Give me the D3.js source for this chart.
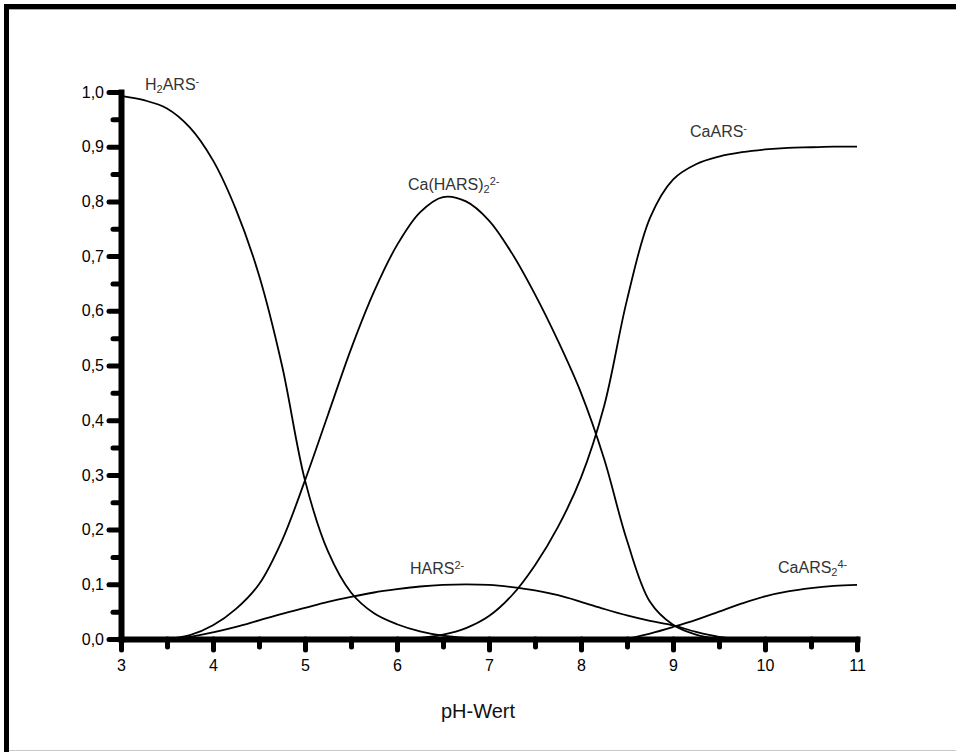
<!DOCTYPE html>
<html>
<head>
<meta charset="utf-8">
<script src="https://cdn.jsdelivr.net/npm/d3@7"></script>
<style>
  body { margin: 0; background: #fff; }
  svg { display: block; }
  text { font-family: "Liberation Sans", Arial, sans-serif; }
</style>
</head>
<body>
<svg id="chart" width="956" height="752"></svg>
<script>
// pH grid shared by every species curve
const pH = [3.00, 3.25, 3.50, 3.75, 4.00, 4.25, 4.50, 4.75, 5.00, 5.25, 5.50, 5.75,
            6.00, 6.25, 6.50, 6.75, 7.00, 7.25, 7.50, 7.75, 8.00, 8.25, 8.50, 8.75,
            9.00, 9.25, 9.50, 9.75, 10.00, 10.25, 10.50, 10.75, 11.00];

// species fractions (null = species not drawn at that pH)
const h2ars = [0.993, 0.985, 0.970, 0.935, 0.875, 0.785, 0.665, 0.500, 0.290, 0.160, 0.085, 0.047,
               0.027, 0.014, 0.006, 0.002, 0.000, null, null, null, null, null, null, null,
               null, null, null, null, null, null, null, null, null];
const caHars2 = [null, null, 0.000, 0.007, 0.025, 0.055, 0.100, 0.180, 0.290, 0.410, 0.530, 0.635,
                 0.720, 0.780, 0.808, 0.800, 0.765, 0.705, 0.630, 0.545, 0.450, 0.330, 0.180, 0.068,
                 0.026, 0.008, 0.000, null, null, null, null, null, null];
const caArs = [null, null, null, null, null, null, null, null, null, null, null, null,
               0.000, 0.002, 0.008, 0.020, 0.042, 0.080, 0.135, 0.205, 0.295, 0.425, 0.620, 0.770,
               0.840, 0.868, 0.882, 0.890, 0.895, 0.898, 0.899, 0.900, 0.900];
const hars = [null, null, 0.000, 0.004, 0.012, 0.022, 0.034, 0.046, 0.057, 0.068, 0.077, 0.085,
              0.091, 0.096, 0.099, 0.100, 0.099, 0.095, 0.089, 0.080, 0.068, 0.055, 0.043, 0.033,
              0.025, 0.013, 0.004, 0.000, null, null, null, null, null];
const caArs2 = [null, null, null, null, null, null, null, null, null, null, null, null,
                null, null, null, null, null, null, null, null, null, null, 0.000, 0.010,
                0.022, 0.035, 0.050, 0.065, 0.078, 0.087, 0.093, 0.097, 0.099];

const xTicks = [3, 4, 5, 6, 7, 8, 9, 10, 11];
const xMinor = [3.5, 4.5, 5.5, 6.5, 7.5, 8.5, 9.5, 10.5];
const yTicks = [0, 0.1, 0.2, 0.3, 0.4, 0.5, 0.6, 0.7, 0.8, 0.9, 1.0];
const yMinor = [0.05, 0.15, 0.25, 0.35, 0.45, 0.55, 0.65, 0.75, 0.85, 0.95];
const xTitle = "pH-Wert";

const svg = d3.select("#chart");

// outer frame: heavy top and left edges, thin grey bottom line
svg.append("rect").attr("x", 4).attr("y", 4).attr("width", 952).attr("height", 5).attr("fill", "#000");
svg.append("line").attr("x1", 9).attr("x2", 956).attr("y1", 9.5).attr("y2", 9.5).attr("stroke", "#aaa").attr("stroke-width", 1);
svg.append("rect").attr("x", 4).attr("y", 4).attr("width", 5).attr("height", 748).attr("fill", "#000");
svg.append("line").attr("x1", 9).attr("x2", 956).attr("y1", 750.5).attr("y2", 750.5).attr("stroke", "#c8c8c8").attr("stroke-width", 1);

const x = d3.scaleLinear().domain([3, 11]).range([121, 857]);
const y = d3.scaleLinear().domain([0, 1]).range([639, 92]);

const fmt = d => d3.format(".1f")(d).replace(".", ",");

// minor ticks (no labels)
const gxm = svg.append("g").attr("transform", `translate(0,${y(0)})`)
  .call(d3.axisBottom(x).tickValues(xMinor).tickSize(8).tickFormat(""));
const gym = svg.append("g").attr("transform", `translate(${x(3)},0)`)
  .call(d3.axisLeft(y).tickValues(yMinor).tickSize(8).tickFormat(""));
[gxm, gym].forEach(g => {
  g.select(".domain").remove();
  g.selectAll(".tick line").attr("stroke", "#000").attr("stroke-width", 5).attr("stroke-linecap", "round");
});

// major axes
const gx = svg.append("g").attr("transform", `translate(0,${y(0)})`)
  .call(d3.axisBottom(x).tickValues(xTicks).tickSize(11).tickSizeOuter(0).tickPadding(10).tickFormat(d3.format("d")));
const gy = svg.append("g").attr("transform", `translate(${x(3)},0)`)
  .call(d3.axisLeft(y).tickValues(yTicks).tickSize(12).tickSizeOuter(0).tickPadding(5).tickFormat(fmt));
[gx, gy].forEach(g => {
  g.select(".domain").attr("stroke", "#000").attr("stroke-width", 6).attr("stroke-linecap", "square");
  g.selectAll(".tick line").attr("stroke", "#000").attr("stroke-width", 5).attr("stroke-linecap", "round");
  g.selectAll(".tick text").attr("fill", "#000").style("font-size", "16px")
    .style("font-family", "'Liberation Sans', Arial, sans-serif");
});

svg.append("text").attr("x", 478).attr("y", 718).attr("text-anchor", "middle")
  .style("font-size", "20px").attr("fill", "#111").text(xTitle);

// species curves
const series = [h2ars, caHars2, caArs, hars, caArs2];
const line = d3.line()
  .defined(d => d[1] !== null)
  .x(d => x(d[0])).y(d => y(d[1]))
  .curve(d3.curveCatmullRom.alpha(0.5));
svg.append("g").selectAll("path").data(series).join("path")
  .attr("d", s => line(pH.map((p, i) => [p, s[i]])))
  .attr("fill", "none").attr("stroke", "#000").attr("stroke-width", 1.8);

// species labels with sub- and superscripts
function label(xp, yp, parts) {
  const t = svg.append("text").attr("x", xp).attr("y", yp)
    .style("font-size", "16px").attr("fill", "#333");
  parts.forEach(([s, kind]) => {
    const ts = t.append("tspan").text(s);
    if (kind === "sub") ts.attr("baseline-shift", "-30%").style("font-size", "11px");
    if (kind === "sup") ts.attr("baseline-shift", "50%").style("font-size", "11px");
  });
}
label(145, 90, [["H", ""], ["2", "sub"], ["ARS", ""], ["-", "sup"]]);
label(408, 190, [["Ca(HARS)", ""], ["2", "sub"], ["2-", "sup"]]);
label(690, 137, [["CaARS", ""], ["-", "sup"]]);
label(410, 574, [["HARS", ""], ["2-", "sup"]]);
label(778, 573, [["CaARS", ""], ["2", "sub"], ["4-", "sup"]]);
</script>
</body>
</html>
